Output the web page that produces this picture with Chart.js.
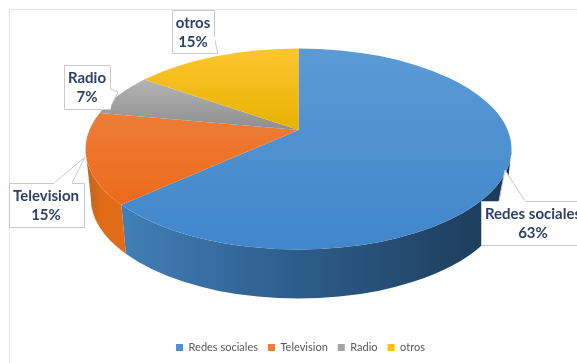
<!DOCTYPE html>
<html lang="es">
<head>
<meta charset="utf-8">
<title>Medios</title>
<script src="https://cdn.jsdelivr.net/npm/chart.js@4"></script>
<style>
    html, body { margin: 0; padding: 0; background: #fff; }
    canvas { display: block; }
</style>
</head>
<body>
<canvas id="pieChart" width="577" height="363"></canvas>
<script>
const categories = ['Redes sociales', 'Television', 'Radio', 'otros'];
const shares = [63, 15, 7, 15];
const legendColors = ['#4a90d2', '#ed7d31', '#a5a5a5', '#ffc000'];

// Top face shading, light to dark going down
const topShades = [
    ['#5b9bd5', '#4186cb'],
    ['#ef8a4c', '#ec6a1a'],
    ['#b4b4b4', '#8e8e8e'],
    ['#fcc630', '#e8b200']
];
// Rim shading, left to right
const sideShades = [
    ['#417fb8', '#2d5c8a', '#1b3955'],
    ['#bb641c', '#e06c18', '#e06c18'],
    ['#777777', '#777777', '#777777'],
    ['#b58c00', '#b58c00', '#b58c00']
];

// Callouts: box rectangle, tip of the pointer, where the pointer leaves the box
const callouts = [
    { box: [481, 201, 120, 44], tip: [505, 170], base: [[499, 201], [525, 201]], textX: 533 },
    { box: [9, 183, 75, 44], tip: [85, 157], base: [[54, 183], [72, 183]], textX: 46 },
    { box: [64, 65, 46, 44], tip: [118, 92], base: [[110, 89], [110, 108]], textX: 87 },
    { box: [172, 10, 42, 43], tip: [218, 54], base: [[214, 36], [214, 53]], textX: 193 }
];

const TILT = 0.45;          // vertical squash of rays leaving the apex
const RY_RATIO = 0.472;
const APEX_SHIFT_X = -2;    // legend is centred a little right of the disc
const APEX_SHIFT_Y = -36;   // apex sits above the middle of the chart area
const CENTER_DROP = 19;     // ellipse centre sits below the apex
const DEPTH = 49;
const BOTTOM_RX_RATIO = 0.975;

function pieGeometry(arc) {
    const ax = arc.x + APEX_SHIFT_X;
    const ay = arc.y + APEX_SHIFT_Y;
    const rx = arc.outerRadius;
    return { ax, ay, rx, ry: rx * RY_RATIO, cx: ax, cy: ay + CENTER_DROP };
}

// Ellipse angle where the ray for a slice boundary meets the rim
function rimAngle(g, angle) {
    const theta = angle + Math.PI / 2;
    const dx = Math.sin(theta) / g.rx;
    const dy = -TILT * Math.cos(theta) / g.ry;
    const py = (g.ay - g.cy) / g.ry;
    const a = dx * dx + dy * dy;
    const b = 2 * py * dy;
    const c = py * py - 1;
    const t = (-b + Math.sqrt(b * b - 4 * a * c)) / (2 * a);
    return Math.atan2(py + t * dy, t * dx);
}

function drawSide(ctx, g, from, to, shades) {
    // Only the part of the rim facing the viewer is visible
    let start = from;
    let end = to;
    while (end < start) end += Math.PI * 2;
    if (start < 0 && end <= 0) return;
    start = Math.max(start, 0);
    end = Math.min(end, Math.PI);
    if (end <= start) return;

    const x0 = g.cx + g.rx * Math.cos(end);
    const x1 = g.cx + g.rx * Math.cos(start);
    const grad = ctx.createLinearGradient(x0, 0, x1, 0);
    grad.addColorStop(0, shades[0]);
    grad.addColorStop(0.45, shades[1]);
    grad.addColorStop(1, shades[2]);

    ctx.beginPath();
    ctx.ellipse(g.cx, g.cy, g.rx, g.ry, 0, start, end);
    ctx.ellipse(g.cx, g.cy + DEPTH, g.rx * BOTTOM_RX_RATIO, g.ry, 0, end, start, true);
    ctx.closePath();
    ctx.fillStyle = grad;
    ctx.fill();
}

function drawTop(ctx, g, from, to, shades) {
    const points = [from, to].map(a => g.cy + g.ry * Math.sin(a));
    let yMin = Math.min(g.ay, points[0], points[1]);
    let yMax = Math.max(g.ay, points[0], points[1]);
    if (to < from) yMin = g.cy - g.ry;
    if (from < Math.PI / 2 && (to > Math.PI / 2 || to < from)) yMax = g.cy + g.ry;
    if (from < -Math.PI / 2 && to > -Math.PI / 2) yMin = g.cy - g.ry;

    const grad = ctx.createLinearGradient(0, yMin, 0, yMax);
    grad.addColorStop(0, shades[0]);
    grad.addColorStop(1, shades[1]);

    ctx.beginPath();
    ctx.moveTo(g.ax, g.ay);
    ctx.ellipse(g.cx, g.cy, g.rx, g.ry, 0, from, to);
    ctx.closePath();
    ctx.fillStyle = grad;
    ctx.fill();
}

function drawCallouts(ctx) {
    ctx.save();
    callouts.forEach((c, i) => {
        const [x, y, w, h] = c.box;
        ctx.fillStyle = '#fff';
        ctx.strokeStyle = '#c9c9c9';
        ctx.lineWidth = 1;
        ctx.beginPath();
        ctx.rect(x + 0.5, y + 0.5, w, h);
        ctx.fill();
        ctx.stroke();

        ctx.beginPath();
        ctx.moveTo(c.base[0][0], c.base[0][1]);
        ctx.lineTo(c.tip[0], c.tip[1]);
        ctx.lineTo(c.base[1][0], c.base[1][1]);
        ctx.fill();
        ctx.stroke();

        // Open the box edge under the pointer so the two read as one shape
        ctx.strokeStyle = '#fff';
        ctx.lineWidth = 2;
        ctx.beginPath();
        ctx.moveTo(c.base[0][0], c.base[0][1] + 0.5);
        ctx.lineTo(c.base[1][0], c.base[1][1] + 0.5);
        ctx.stroke();

        ctx.fillStyle = '#2f4068';
        ctx.font = 'bold 15px Lato';
        ctx.textAlign = 'center';
        ctx.textBaseline = 'middle';
        ctx.fillText(categories[i], c.textX, y + 13);
        ctx.fillText(shares[i] + '%', c.textX, y + 32);
    });
    ctx.restore();
}

// Replaces the flat arcs with a tilted disc built from the computed slice angles
const tiltedPie = {
    id: 'tiltedPie',
    beforeDraw(chart) {
        const ctx = chart.ctx;
        ctx.save();
        ctx.strokeStyle = '#e4e4e4';
        ctx.lineWidth = 1;
        ctx.beginPath();
        ctx.moveTo(9.5, 363);
        ctx.lineTo(9.5, 9.5);
        ctx.lineTo(577, 9.5);
        ctx.stroke();
        ctx.restore();
    },
    beforeDatasetsDraw(chart) {
        const ctx = chart.ctx;
        const arcs = chart.getDatasetMeta(0).data;
        const g = pieGeometry(arcs[0]);
        const rims = arcs.map(arc => [rimAngle(g, arc.startAngle), rimAngle(g, arc.endAngle)]);

        rims.forEach((rim, i) => drawSide(ctx, g, rim[0], rim[1], sideShades[i]));
        rims.forEach((rim, i) => drawTop(ctx, g, rim[0], rim[1], topShades[i]));
        return false;
    },
    afterDraw(chart) {
        drawCallouts(chart.ctx);
    }
};

new Chart(document.getElementById('pieChart'), {
    type: 'pie',
    data: {
        labels: categories,
        datasets: [{
            data: shares,
            backgroundColor: legendColors,
            borderWidth: 0
        }]
    },
    options: {
        responsive: false,
        animation: false,
        radius: 213,
        layout: { padding: { left: 24 } },
        plugins: {
            tooltip: { enabled: false },
            legend: {
                position: 'bottom',
                labels: {
                    boxWidth: 7,
                    boxHeight: 7,
                    padding: 10,
                    color: '#595959',
                    font: { family: 'Lato', size: 11 }
                }
            }
        }
    },
    plugins: [tiltedPie]
});
</script>
</body>
</html>
